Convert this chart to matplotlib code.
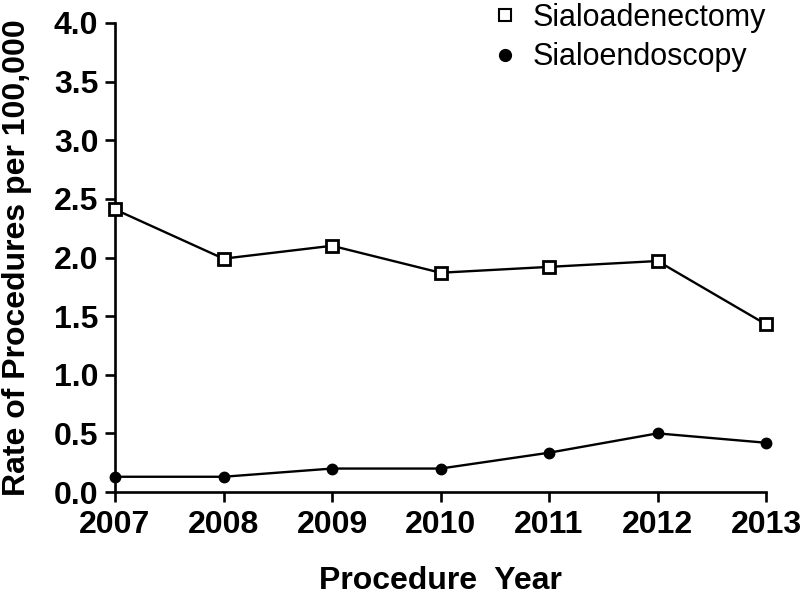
import matplotlib
matplotlib.use("Agg")
import matplotlib.pyplot as plt

years = [2007, 2008, 2009, 2010, 2011, 2012, 2013]
sialoadenectomy = [2.41, 1.99, 2.10, 1.87, 1.92, 1.97, 1.43]
sialoendoscopy = [0.13, 0.13, 0.20, 0.20, 0.335, 0.50, 0.42]
yticks = [0.0, 0.5, 1.0, 1.5, 2.0, 2.5, 3.0, 3.5, 4.0]

plt.rcParams['font.family'] = ['Liberation Sans', 'DejaVu Sans']

fig = plt.figure(figsize=(8.0, 5.95), dpi=100)
ax = fig.add_axes([115/800, 1-492/595, (766-115)/800, (492-23)/595])

ax.plot(years, sialoadenectomy, color='black', lw=1.7, marker='s', ms=8,
        mfc='white', mec='black', mew=2, label='Sialoadenectomy', clip_on=False, zorder=3)
ax.plot(years, sialoendoscopy, color='black', lw=1.7, marker='o', ms=7.5,
        mfc='black', mec='black', label='Sialoendoscopy', clip_on=False, zorder=3)

ax.set_xlim(2007, 2013)
ax.set_ylim(0, 4.0)
ax.set_xticks(years)
ax.set_xticklabels([str(y) for y in years])
ax.set_yticks(yticks)
ax.set_yticklabels([f"{v:.1f}" for v in yticks])
for s in ['top', 'right']:
    ax.spines[s].set_visible(False)
for s in ['left', 'bottom']:
    ax.spines[s].set_linewidth(1.9)
ax.tick_params(axis='both', width=1.9, length=7, direction='out', labelsize=23)
ax.tick_params(axis='x', pad=6)
ax.tick_params(axis='y', pad=5)
for lab in ax.get_xticklabels() + ax.get_yticklabels():
    lab.set_fontweight('bold')

ax.set_ylabel('Rate of Procedures per 100,000', fontsize=23, fontweight='bold', va='baseline')
ax.yaxis.set_label_coords(-0.1390, 0.5)
ax.set_xlabel('Procedure  Year', fontsize=23, fontweight='bold', va='baseline')
ax.xaxis.set_label_coords(0.5, -0.2068)

leg = fig.legend(loc='upper left', bbox_to_anchor=(0.580, 1.042), frameon=False,
                 fontsize=22, handlelength=0.9, handletextpad=0.45, labelspacing=0.32)
for h in leg.legend_handles:
    h.set_linestyle('None')
    h.set_markersize(8)
    h.set_markeredgewidth(1.5)

fig.savefig('out.png', dpi=100)
